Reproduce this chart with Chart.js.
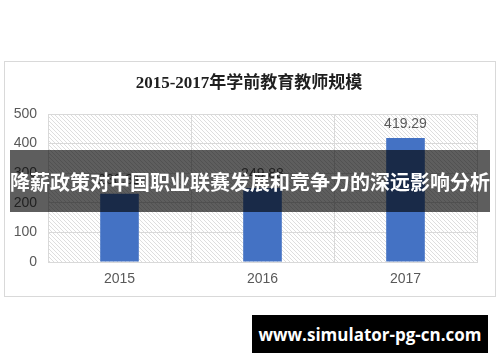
<!DOCTYPE html>
<html>
<head>
<meta charset="utf-8">
<script src="https://cdn.jsdelivr.net/npm/chart.js@4"></script>
<style>
  html, body { margin: 0; padding: 0; background: #fff; }
  #wrap { position: relative; width: 500px; height: 362px; overflow: hidden; }
  #band {
    position: absolute; left: 10px; top: 150px; width: 480px; height: 62px;
    background: rgba(0,0,0,0.63); color: #fff;
    font: bold 20px "Noto Sans CJK SC", sans-serif;
    display: flex; align-items: center; justify-content: center; white-space: nowrap;
  }
  #site {
    position: absolute; left: 252px; top: 315px; width: 236px; height: 38px;
    background: #000; color: #fff;
    font: bold 17px "Open Sans", "DejaVu Sans", sans-serif;
    display: flex; align-items: center; justify-content: center; white-space: nowrap;
  }
</style>
</head>
<body>
<div id="wrap">
  <canvas id="c" width="500" height="362"></canvas>
  <div id="band">降薪政策对中国职业联赛发展和竞争力的深远影响分析</div>
  <div id="site">www.simulator-pg-cn.com</div>
</div>
<script>
const chartTitle = '2015-2017年学前教育教师规模';
const years = ['2015', '2016', '2017'];
const teachers = [230.31, 249.88, 419.29];
const yTicks = [0, 100, 200, 300, 400, 500];

const grey = '#595959';
const gridGrey = '#d9d9d9';

// diagonal hatch behind the plot, like the office chart fill
function hatch() {
  const p = document.createElement('canvas');
  p.width = 4; p.height = 4;
  const g = p.getContext('2d');
  g.strokeStyle = 'rgba(0,0,0,0.13)';
  g.lineWidth = 1;
  g.beginPath();
  g.moveTo(0, 0); g.lineTo(4, 4);
  g.moveTo(-1, 3); g.lineTo(1, 5);
  g.moveTo(3, -1); g.lineTo(5, 1);
  g.stroke();
  return p;
}

const frame = {
  id: 'frame',
  beforeDraw(chart) {
    const { ctx, chartArea: a } = chart;
    ctx.save();
    ctx.strokeStyle = gridGrey;
    ctx.lineWidth = 1;
    ctx.strokeRect(4.5, 61.5, 491, 235);
    ctx.fillStyle = ctx.createPattern(hatch(), 'repeat');
    ctx.fillRect(a.left, a.top, a.right - a.left, a.bottom - a.top);
    ctx.fillStyle = '#1f1f1f';
    ctx.font = 'bold 17px "Liberation Serif", "Noto Sans CJK SC", serif';
    ctx.textAlign = 'center';
    ctx.textBaseline = 'middle';
    ctx.fillText(chartTitle, 249, 84);
    ctx.restore();
  }
};

const valueLabels = {
  id: 'valueLabels',
  afterDatasetsDraw(chart) {
    const { ctx } = chart;
    const meta = chart.getDatasetMeta(0);
    ctx.save();
    ctx.fillStyle = grey;
    ctx.font = '14px "Liberation Sans", Arial, sans-serif';
    ctx.textAlign = 'center';
    ctx.textBaseline = 'bottom';
    meta.data.forEach((bar, i) => {
      ctx.fillText(teachers[i].toFixed(2), bar.x, bar.y - 7);
    });
    ctx.restore();
  }
};

new Chart(document.getElementById('c'), {
  type: 'bar',
  data: {
    labels: years,
    datasets: [{
      data: teachers,
      backgroundColor: '#4472c4',
      barPercentage: 0.27,
      categoryPercentage: 1
    }]
  },
  options: {
    responsive: false,
    animation: false,
    layout: { padding: { top: 114, right: 23, left: 0, bottom: 0 } },
    plugins: { legend: { display: false }, tooltip: { enabled: false } },
    scales: {
      x: {
        afterFit: s => { s.height = 100; },
        grid: { color: gridGrey, drawTicks: false, offset: true },
        border: { color: gridGrey },
        ticks: { color: grey, padding: 9, font: { family: '"Liberation Sans", Arial, sans-serif', size: 14 } }
      },
      y: {
        min: 0, max: 500,
        afterFit: s => { s.width = 48; },
        afterBuildTicks: s => { s.ticks = yTicks.map(v => ({ value: v })); },
        grid: { color: gridGrey, drawTicks: false },
        border: { display: false },
        ticks: { color: grey, padding: 11, font: { family: '"Liberation Sans", Arial, sans-serif', size: 14 } }
      }
    }
  },
  plugins: [frame, valueLabels]
});
</script>
</body>
</html>
